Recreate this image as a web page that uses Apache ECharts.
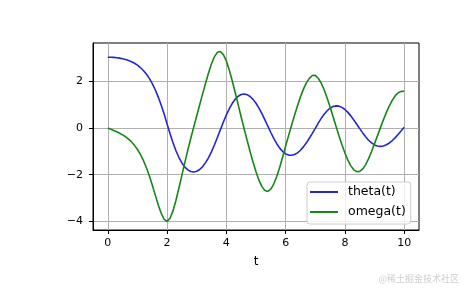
<!DOCTYPE html>
<html>
<head>
<meta charset="utf-8">
<script src="https://cdn.jsdelivr.net/npm/echarts@6/dist/echarts.min.js"></script>
<style>html,body{margin:0;padding:0;background:#fff;}#c{width:465px;height:288px;}</style>
</head>
<body>
<div id="c"></div>
<script>
var t = [0.0,0.1,0.2,0.3,0.4,0.5,0.6,0.7,0.8,0.9,1.0,1.1,1.2,1.3,1.4,1.5,1.6,1.7,1.8,1.9,
2.0,2.1,2.2,2.3,2.4,2.5,2.6,2.7,2.8,2.9,3.0,3.1,3.2,3.3,3.4,3.5,3.6,3.7,3.8,3.9,
4.0,4.1,4.2,4.3,4.4,4.5,4.6,4.7,4.8,4.9,5.0,5.1,5.2,5.3,5.4,5.5,5.6,5.7,5.8,5.9,
6.0,6.1,6.2,6.3,6.4,6.5,6.6,6.7,6.8,6.9,7.0,7.1,7.2,7.3,7.4,7.5,7.6,7.7,7.8,7.9,
8.0,8.1,8.2,8.3,8.4,8.5,8.6,8.7,8.8,8.9,9.0,9.1,9.2,9.3,9.4,9.5,9.6,9.7,9.8,9.9,10.0];

var theta = [3.04,3.039,3.032,3.019,3.000,2.975,2.942,2.900,2.847,2.780,2.698,2.597,2.472,2.319,2.133,1.909,1.644,1.336,0.987,0.604,
0.17,-0.24,-0.63,-0.975,-1.265,-1.498,-1.674,-1.795,-1.864,-1.883,-1.854,-1.777,-1.654,-1.484,-1.268,-1.010,-0.716,-0.396,-0.066,0.260,
0.565,0.835,1.062,1.239,1.365,1.438,1.460,1.432,1.355,1.231,1.063,0.855,0.615,0.353,0.079,-0.191,-0.446,-0.672,-0.862,-1.009,
-1.110,-1.161,-1.169,-1.136,-1.063,-0.952,-0.808,-0.634,-0.438,-0.228,-0.013,0.209,0.414,0.595,0.743,0.854,0.924,0.953,0.940,0.887,
0.797,0.673,0.522,0.349,0.163,-0.026,-0.208,-0.377,-0.522,-0.639,-0.724,-0.772,-0.786,-0.768,-0.718,-0.640,-0.535,-0.410,-0.269,-0.119,0.034];

var omega = [0,-0.050,-0.102,-0.158,-0.220,-0.291,-0.375,-0.475,-0.596,-0.742,-0.919,-1.133,-1.390,-1.694,-2.046,-2.443,-2.867,-3.288,-3.657,-3.917,
-4.005,-3.870,-3.545,-3.096,-2.572,-2.020,-1.472,-0.943,-0.436,0.052,0.528,0.999,1.468,1.930,2.370,2.761,3.067,3.251,3.283,3.153,
2.876,2.485,2.019,1.513,0.994,0.477,-0.031,-0.526,-1.005,-1.460,-1.877,-2.237,-2.514,-2.681,-2.720,-2.625,-2.404,-2.080,-1.683,-1.240,
-0.773,-0.324,0.120,0.551,0.961,1.338,1.670,1.940,2.134,2.255,2.262,2.136,1.931,1.643,1.294,0.905,0.495,0.080,-0.327,-0.714,
-1.069,-1.377,-1.623,-1.792,-1.872,-1.859,-1.755,-1.569,-1.314,-1.008,-0.668,-0.326,0.019,0.355,0.671,0.956,1.199,1.389,1.516,1.575,1.580];

var xTicks = [0,2,4,6,8,10];
var xTickLabels = ['0','2','4','6','8','10'];
var yTicks = [-4,-2,0,2];
var yTickLabels = ['\u22124','\u22122','0','2'];
var seriesNames = ['theta(t)','omega(t)'];

var FONT = 'DejaVu Sans';
var chart = echarts.init(document.getElementById('c'), null, {renderer:'canvas'});
function pairs(ys){ return t.map(function(x,i){ return [x, ys[i]]; }); }

chart.setOption({
  animation:false,
  backgroundColor:'#ffffff',
  grid:{left:93, right:46, top:43, bottom:58, show:true, borderColor:'#000000', borderWidth:1, backgroundColor:'transparent'},
  xAxis:{
    type:'value', min:-0.5, max:10.5,
    name:'t', nameLocation:'middle', nameGap:26,
    nameTextStyle:{fontFamily:FONT, fontSize:12, color:'#000'},
    axisLine:{show:true, onZero:false, lineStyle:{color:'#000', width:1}},
    axisTick:{show:true, inside:false, length:4, lineStyle:{color:'#000', width:1}, customValues:xTicks},
    axisLabel:{fontFamily:FONT, fontSize:11, color:'#000', margin:8, customValues:xTicks,
      formatter:function(v){ var i=xTicks.indexOf(v); return i>=0?xTickLabels[i]:''; }},
    splitLine:{show:true, lineStyle:{color:'#b0b0b0', width:1}}
  },
  yAxis:{
    type:'value', min:-4.375, max:3.65,
    axisLine:{show:true, onZero:false, lineStyle:{color:'#000', width:1}},
    axisTick:{show:true, inside:false, length:4, lineStyle:{color:'#000', width:1}, customValues:yTicks},
    axisLabel:{fontFamily:FONT, fontSize:11, color:'#000', margin:10, customValues:yTicks,
      formatter:function(v){ var i=yTicks.indexOf(v); return i>=0?yTickLabels[i]:''; }},
    splitLine:{show:true, lineStyle:{color:'#b0b0b0', width:1}}
  },
  legend:{
    orient:'vertical', left:307, top:182,
    icon:'rect', itemWidth:28, itemHeight:2, itemGap:6,
    padding:[3,5,5,3],
    backgroundColor:'rgba(255,255,255,0.8)', borderColor:'#cccccc', borderWidth:1, borderRadius:3,
    textStyle:{fontFamily:FONT, fontSize:12.5, color:'#000', lineHeight:14, padding:[0,0,0,5]},
    data:seriesNames
  },
  series:[
    {name:seriesNames[0], type:'line', data:pairs(theta), showSymbol:false, smooth:false,
     color:'#2424d8', lineStyle:{color:'#2424d8', width:1.6}, itemStyle:{color:'#2424d8'}, z:3},
    {name:seriesNames[1], type:'line', data:pairs(omega), showSymbol:false, smooth:false,
     color:'#178517', lineStyle:{color:'#178517', width:1.6}, itemStyle:{color:'#178517'}, z:4}
  ],
  graphic:[{
    type:'text', right:6, bottom:5,
    style:{text:'@稀土掘金技术社区', font:'9px "Noto Sans CJK SC"', fill:'#cfcfcf'}
  }]
});
</script>
</body>
</html>
